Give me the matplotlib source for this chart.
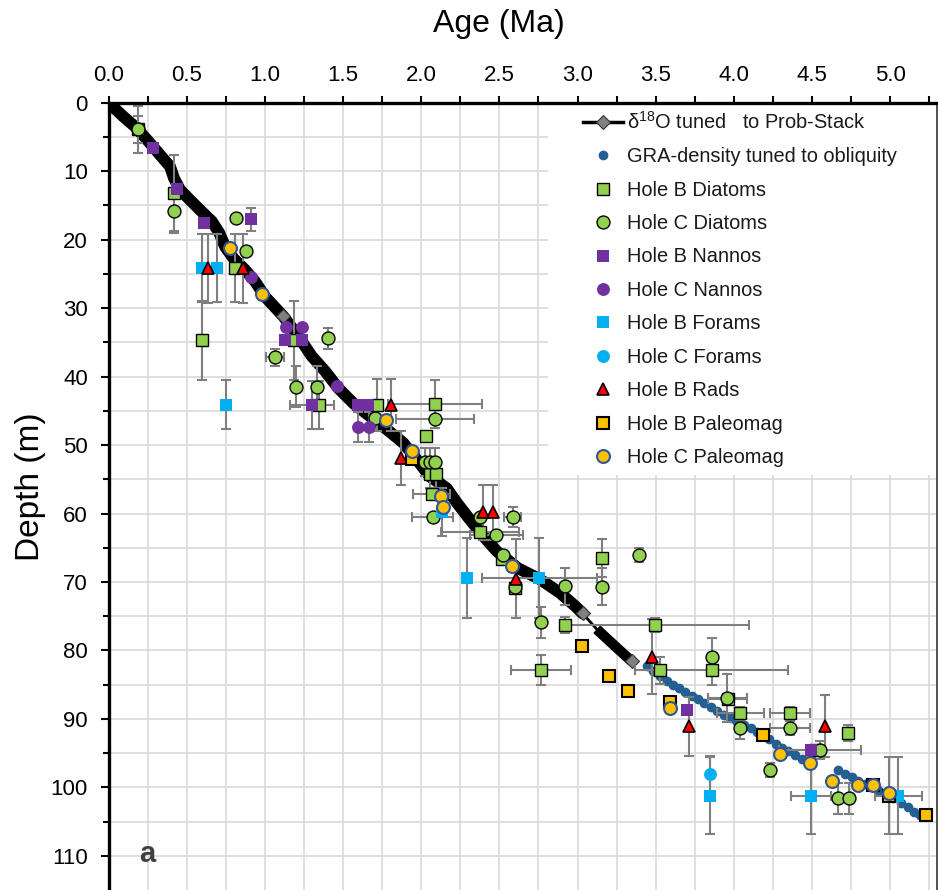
"""Age-depth plot: tuned isotope stack, GRA density and biostratigraphic datums."""

import numpy as np
import matplotlib
matplotlib.use("Agg")
import matplotlib.pyplot as plt
from matplotlib.lines import Line2D
from matplotlib.patches import Rectangle

plt.rcParams["font.family"] = ["Liberation Sans", "DejaVu Sans"]
plt.rcParams["mathtext.fontset"] = "custom"
plt.rcParams["mathtext.rm"] = "Liberation Sans"

# d18O tuned to Prob-Stack
curve_age = [0.0, 0.094, 0.18, 0.265, 0.34, 0.393, 0.418, 0.457, 0.521, 0.596, 0.66,
             0.708, 0.745, 0.798, 0.873, 0.937, 1.0, 1.118, 1.214, 1.299, 1.385, 1.47,
             1.566, 1.672, 1.779, 1.886, 1.971, 2.056, 2.163, 2.227, 2.312, 2.397, 2.483,
             2.62, 2.76, 2.888, 2.984, 3.033, 3.123, 3.251, 3.347]
curve_depth = [0.0, 2.0, 3.7, 5.9, 7.9, 9.3, 11.0, 12.7, 14.2, 15.9, 17.3, 19.0, 21.0,
               22.7, 24.4, 26.1, 28.3, 31.2, 34.1, 37.0, 39.2, 41.7, 43.9, 45.8, 47.7,
               49.7, 52.1, 54.6, 56.3, 58.4, 60.9, 63.3, 65.5, 68.0, 69.6, 71.6, 73.5,
               74.6, 76.9, 79.6, 81.6]

# GRA density tuned to obliquity
gra_age = [3.447, 3.485, 3.528, 3.571, 3.609, 3.652, 3.690, 3.731, 3.773, 3.811, 3.852,
           3.894, 3.937, 3.980, 4.022, 4.065, 4.110, 4.146, 4.189, 4.227, 4.268, 4.310,
           4.349, 4.392, 4.434, 4.477, 4.669, 4.711, 4.754, 4.797, 4.839, 4.882, 4.925,
           4.967, 5.021, 5.068, 5.113, 5.156, 5.192]
gra_depth = [82.3, 83.0, 83.7, 84.4, 85.0, 85.5, 86.1, 86.7, 87.1, 87.7, 88.3, 88.9, 89.4,
             89.9, 90.5, 90.9, 91.3, 91.9, 92.4, 93.0, 93.6, 94.2, 94.7, 95.3, 95.8, 96.4,
             97.5, 98.0, 98.5, 99.1, 99.5, 99.9, 100.4, 100.9, 101.6, 102.3, 102.9, 103.6,
             104.1]

# Hole B diatoms
diat_b_age = [0.186, 0.418, 0.809, 0.596, 1.186, 1.348, 1.715, 2.089, 2.029, 2.057, 2.092,
              2.067, 2.376, 2.515, 2.600, 3.159, 2.920, 3.496, 2.767, 3.529, 3.858, 3.96,
              4.04, 4.36, 4.733, 4.52]
diat_b_depth = [3.9, 13.2, 24.1, 34.7, 34.7, 44.1, 44.1, 44.0, 48.7, 54.3, 54.3, 57.2,
                62.7, 66.6, 70.9, 66.5, 76.3, 76.3, 82.9, 82.9, 82.9, 87.1, 89.2, 89.2,
                92.1, 94.6]
diat_b_xerr = [0, 0, 0, 0, 0, 0, 0, 0.3, 0, 0, 0, 0.12, 0.25, 0, 0, 0, 0, 0.6, 0.19, 0,
               0.49, 0.125, 0.15, 0.13, 0, 0]
diat_b_yerr = [3.4, 5.6, 5.0, 5.8, 5.8, 3.5, 3.8, 3.5, 0, 2.0, 2.0, 0, 0, 0, 0, 2.8, 1.2,
               1.0, 2.2, 2.0, 2.2, 0, 1.0, 1.0, 1.2, 0]

# Hole C diatoms
diat_c_age = [0.186, 0.418, 0.815, 0.877, 1.406, 1.065, 1.197, 1.331, 1.704, 2.089, 2.025,
              2.057, 2.089, 2.074, 2.376, 2.585, 2.479, 2.521, 2.600, 2.920, 3.159, 3.396,
              2.767, 3.858, 3.958, 4.04, 4.36, 4.232, 4.552, 4.669, 4.737]
diat_c_depth = [3.9, 15.8, 16.8, 21.7, 34.4, 37.2, 41.5, 41.5, 46.0, 46.2, 52.5, 52.5,
                52.5, 60.5, 60.5, 60.5, 63.2, 66.1, 70.8, 70.6, 70.7, 66.1, 75.9, 81.0,
                86.9, 91.3, 91.3, 97.5, 94.6, 101.6, 101.6]
diat_c_xerr = [0, 0, 0, 0, 0, 0.06, 0, 0, 0, 0.25, 0, 0, 0, 0.13, 0, 0.055, 0.17, 0, 0,
               0, 0, 0, 0, 0, 0.125, 0, 0.13, 0, 0.26, 0, 0]
diat_c_yerr = [2.0, 3.2, 0, 0, 1.5, 1.2, 3.0, 3.0, 0, 0, 2.0, 2.0, 2.0, 0, 0, 1.5, 0, 0,
               0, 2.7, 2.7, 1.0, 2.3, 2.8, 3.5, 1.7, 1.0, 1.0, 1.3, 2.3, 2.3]

# Hole B / C nannofossils
nanno_b_age = [0.286, 0.436, 0.610, 0.909, 1.129, 1.235, 1.299, 1.598, 1.662, 3.699, 4.494]
nanno_b_depth = [6.6, 12.6, 17.6, 17.0, 34.7, 34.7, 44.1, 44.1, 44.1, 88.7, 94.6]
nanno_b_xerr = [0, 0, 0, 0, 0, 0, 0.14, 0, 0, 0, 0]
nanno_b_yerr = [0, 0, 0, 1.7, 0, 0, 3.5, 0, 0, 0, 0]

nanno_c_age = [0.909, 1.135, 1.235, 1.459, 1.598, 1.668]
nanno_c_depth = [25.4, 32.7, 32.7, 41.3, 47.4, 47.4]
nanno_c_xerr = [0, 0, 0, 0, 0, 0]
nanno_c_yerr = [0, 0, 0, 0, 2.2, 2.2]

# Hole B / C forams
foram_b_age = [0.596, 0.695, 0.749, 2.135, 2.295, 2.756, 3.848, 4.494, 5.052]
foram_b_depth = [24.1, 24.1, 44.1, 59.8, 69.4, 69.4, 101.2, 101.2, 101.2]
foram_b_xerr = [0, 0, 0, 0, 0, 0.37, 0, 0.13, 0.15]
foram_b_yerr = [5.0, 5.0, 3.6, 3.5, 5.8, 5.8, 5.6, 5.6, 5.6]

foram_c_age = [3.848]
foram_c_depth = [98.1]
foram_c_xerr = [0]
foram_c_yerr = [2.7]

# Hole B radiolarians
rad_b_age = [0.634, 0.858, 1.807, 1.869, 2.393, 2.457, 2.607, 3.475, 3.714, 4.584]
rad_b_depth = [24.2, 24.2, 44.1, 51.9, 59.8, 59.8, 69.5, 80.9, 91.1, 91.0]
rad_b_xerr = [0, 0, 0, 0, 0, 0, 0, 0, 0, 0]
rad_b_yerr = [5.0, 5.0, 3.8, 4.0, 4.0, 4.0, 5.8, 5.5, 4.3, 4.5]

# Hole B / C paleomagnetic reversals
pmag_b_age = [1.939, 3.027, 3.204, 3.325, 3.592, 4.185, 4.893, 4.993, 5.228]
pmag_b_depth = [52.1, 79.4, 83.8, 86.0, 87.6, 92.3, 99.6, 101.2, 104.1]
pmag_b_xerr = [0, 0, 0, 0, 0, 0, 0, 0, 0]
pmag_b_yerr = [0, 0, 0, 0, 0, 0, 0, 5.6, 0]

pmag_c_age = [0.777, 0.983, 1.773, 1.939, 2.125, 2.142, 2.579, 3.592, 4.296, 4.488, 4.627,
              4.797, 4.893, 4.993]
pmag_c_depth = [21.2, 27.9, 46.4, 50.8, 57.5, 59.0, 67.7, 88.4, 95.1, 96.5, 99.1, 99.6,
                99.6, 100.9]
pmag_c_xerr = [0] * 14
pmag_c_yerr = [0] * 14

GREEN = "#92d050"
PURPLE = "#7030a0"
BLUE = "#00b0f0"
ORANGE = "#ffc000"
NAVY = "#2f5597"
GRA_BLUE = "#255e91"
ERR_GREY = "#7f7f7f"

MS = 9.3


def draw_errors(ax, age, depth, xerr, yerr):
    """Grey error bars, drawn only where an error is given."""
    age, depth = np.asarray(age), np.asarray(depth)
    xerr, yerr = np.asarray(xerr, float), np.asarray(yerr, float)
    kw = dict(fmt="none", ecolor=ERR_GREY, elinewidth=1.5, capsize=3.8,
              capthick=1.5, zorder=2.5)
    mx = xerr > 0
    if mx.any():
        ax.errorbar(age[mx], depth[mx], xerr=xerr[mx], **kw)
    my = yerr > 0
    if my.any():
        ax.errorbar(age[my], depth[my], yerr=yerr[my], **kw)


def plot():
    fig = plt.figure(figsize=(9.38, 8.9), dpi=100)
    ax = fig.add_axes([108.6 / 938, 0.0, (937 - 108.6) / 938, 1 - 102.8 / 890])

    ax.set_xlim(0, 5.3)
    ax.set_ylim(115, 0)
    ax.set_axisbelow(True)

    # grid every 0.25 Ma and 5 m
    ax.set_xticks(np.arange(0, 5.01, 0.5))
    ax.set_xticks(np.arange(0, 5.3, 0.25), minor=True)
    ax.set_yticks(np.arange(0, 111, 10))
    ax.set_yticks(np.arange(0, 115, 5), minor=True)
    ax.set_xticklabels([f"{v:.1f}" for v in np.arange(0, 5.01, 0.5)])
    ax.grid(True, which="both", color="#d9d9d9", lw=1.2)

    ax.xaxis.tick_top()
    ax.tick_params(axis="both", which="both", direction="out", labelsize=16,
                   colors="black", width=1.5)
    ax.tick_params(axis="x", which="major", length=5, pad=7)
    ax.tick_params(axis="x", which="minor", length=5)
    ax.tick_params(axis="y", which="major", length=6, pad=9)
    ax.tick_params(axis="y", which="minor", length=4)
    ax.tick_params(axis="x", which="both", top=True, bottom=False)

    for side in ("left", "top"):
        ax.spines[side].set_linewidth(2.4)
        ax.spines[side].set_color("black")
    ax.spines["right"].set_linewidth(1.2)
    ax.spines["right"].set_color("#333333")
    ax.spines["bottom"].set_visible(False)

    # white block behind the legend
    ax.add_patch(Rectangle((0.530, 0.527), 0.470, 0.473, transform=ax.transAxes,
                           facecolor="white", edgecolor="none", zorder=1))

    # tuned isotope curve: thin line through all points, thick band where dense
    ax.plot(curve_age, curve_depth, color="black", lw=2, zorder=2)
    ax.plot(curve_age[:38], curve_depth[:38], color="black", lw=8.5,
            solid_joinstyle="round", solid_capstyle="round", zorder=2)
    ax.plot(curve_age[38:], curve_depth[38:], color="black", lw=7.5,
            solid_joinstyle="round", solid_capstyle="butt", zorder=2)
    ax.plot(curve_age, curve_depth, ls="none", marker="D", ms=7, mfc="#808080",
            mec="#333333", mew=0.8, markevery=[17, 37, 40], zorder=2.2)

    ax.plot(gra_age, gra_depth, ls="none", marker="o", ms=6, color=GRA_BLUE,
            mec=GRA_BLUE, zorder=2.3)

    series = [
        (diat_b_age, diat_b_depth, diat_b_xerr, diat_b_yerr,
         dict(marker="s", mfc=GREEN, mec="black", mew=1.0)),
        (diat_c_age, diat_c_depth, diat_c_xerr, diat_c_yerr,
         dict(marker="o", mfc=GREEN, mec="black", mew=1.0)),
        (nanno_b_age, nanno_b_depth, nanno_b_xerr, nanno_b_yerr,
         dict(marker="s", mfc=PURPLE, mec=PURPLE, mew=0)),
        (nanno_c_age, nanno_c_depth, nanno_c_xerr, nanno_c_yerr,
         dict(marker="o", mfc=PURPLE, mec=PURPLE, mew=0)),
        (foram_b_age, foram_b_depth, foram_b_xerr, foram_b_yerr,
         dict(marker="s", mfc=BLUE, mec=BLUE, mew=0)),
        (foram_c_age, foram_c_depth, foram_c_xerr, foram_c_yerr,
         dict(marker="o", mfc=BLUE, mec=BLUE, mew=0)),
        (rad_b_age, rad_b_depth, rad_b_xerr, rad_b_yerr,
         dict(marker="^", mfc="#ff0000", mec="black", mew=1.2)),
        (pmag_b_age, pmag_b_depth, pmag_b_xerr, pmag_b_yerr,
         dict(marker="s", mfc=ORANGE, mec="black", mew=1.5)),
        (pmag_c_age, pmag_c_depth, pmag_c_xerr, pmag_c_yerr,
         dict(marker="o", mfc=ORANGE, mec=NAVY, mew=1.5)),
    ]
    for age, depth, xerr, yerr, style in series:
        draw_errors(ax, age, depth, xerr, yerr)
    for i, (age, depth, xerr, yerr, style) in enumerate(series):
        ax.plot(age, depth, ls="none", ms=MS, zorder=3 + i * 0.01, **style)

    handles = [
        Line2D([], [], color="black", lw=2.5, marker="D", ms=7, mfc="#808080",
               mec="#333333", mew=0.8),
        Line2D([], [], ls="none", marker="o", ms=6, color=GRA_BLUE),
    ] + [Line2D([], [], ls="none", ms=MS, **s[4]) for s in series]
    labels = ["δ$^{18}$O tuned   to Prob-Stack", "GRA-density tuned to obliquity",
              "Hole B Diatoms", "Hole C Diatoms", "Hole B Nannos", "Hole C Nannos",
              "Hole B Forams", "Hole C Forams", "Hole B Rads", "Hole B Paleomag",
              "Hole C Paleomag"]
    leg = ax.legend(handles, labels, loc="upper left",
                    bbox_to_anchor=(583 / 938, 1 - 111 / 890),
                    bbox_transform=fig.transFigure, frameon=False, fontsize=14.4,
                    borderpad=0, borderaxespad=0, handlelength=2.0,
                    handletextpad=0.2, labelspacing=0.72)
    leg.set_zorder(4)
    for t in leg.get_texts():
        t.set_color("#1a1a1a")

    fig.text(499 / 938, 1 - 24 / 890, "Age (Ma)", ha="center", va="center",
             fontsize=23)
    fig.text(30 / 938, 1 - 487 / 890, "Depth (m)", ha="center", va="center",
             rotation=90, fontsize=24)
    ax.text(0.25, 109.8, "a", ha="center", va="center", fontsize=21,
            fontweight="bold", color="#404040")

    plt.savefig("out.png", dpi=100)


def main():
    plot()


if __name__ == "__main__":
    main()
